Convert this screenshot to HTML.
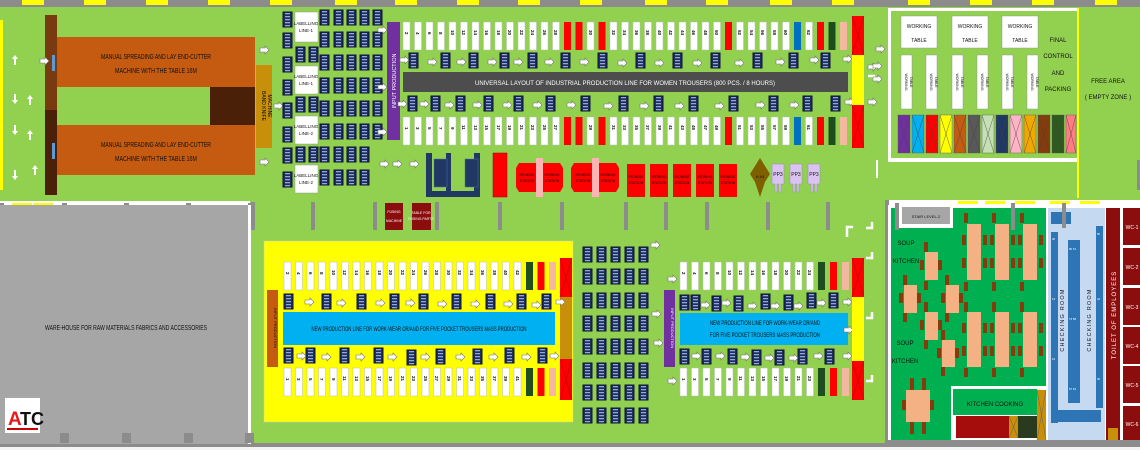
<!DOCTYPE html>
<html><head><meta charset="utf-8"><style>
body{margin:0;background:#fff}
svg{display:block}
text{font-family:"Liberation Sans",sans-serif;fill:#111}
</style></head><body>
<svg width="1140" height="450" viewBox="0 0 1140 450" xmlns="http://www.w3.org/2000/svg">
<defs>
<pattern id="mp" width="9" height="3" patternUnits="userSpaceOnUse"><rect width="9" height="3" fill="#1f2d5a"/><rect x="2" y="1" width="5" height="1.3" fill="#8fa8e0"/></pattern>
<g id="m"><rect width="9" height="15" fill="url(#mp)" stroke="#0d1433" stroke-width="1"/></g>
<g id="ar"><path d="M0 2h5v-2l4 4-4 4v-2h-5z" fill="#fff" stroke="#777" stroke-width=".6"/></g>
<g id="st"><rect width="7" height="28" fill="#fff" stroke="#bbb" stroke-width=".5"/></g>
</defs>
<rect width="1140" height="450" fill="#92d050"/>
<rect x="0" y="0" width="1140" height="7" fill="#8c8c8c"/>
<g fill="#ffff00"><rect x="22" y="0" width="22" height="5"/><rect x="84" y="0" width="22" height="5"/><rect x="146" y="0" width="22" height="5"/><rect x="208" y="0" width="22" height="5"/><rect x="270" y="0" width="22" height="5"/><rect x="335" y="0" width="22" height="5"/><rect x="395" y="0" width="22" height="5"/><rect x="457" y="0" width="22" height="5"/><rect x="518" y="0" width="22" height="5"/><rect x="580" y="0" width="22" height="5"/><rect x="645" y="0" width="22" height="5"/><rect x="706" y="0" width="22" height="5"/><rect x="770" y="0" width="22" height="5"/><rect x="832" y="0" width="22" height="5"/><rect x="908" y="0" width="22" height="5"/><rect x="970" y="0" width="22" height="5"/><rect x="1032" y="0" width="22" height="5"/><rect x="1095" y="0" width="22" height="5"/><rect x="0" y="20" width="3" height="170"/></g>
<rect x="0" y="443" width="1140" height="4" fill="#8c8c8c"/>
<rect x="0" y="447" width="1140" height="3" fill="#f4f4f4"/>

<rect x="45" y="15" width="12" height="180" fill="#7a3a10"/>
<rect x="45" y="110" width="12" height="85" fill="#4a2008"/>
<rect x="57" y="37" width="198" height="50" fill="#c55a11"/>
<rect x="57" y="125" width="198" height="50" fill="#c55a11"/>
<rect x="57" y="87" width="153" height="38" fill="#92d050"/>
<rect x="210" y="87" width="45" height="38" fill="#4a2008"/>
<rect x="52" y="55" width="3" height="16" fill="#5b9bd5"/><rect x="52" y="143" width="3" height="16" fill="#5b9bd5"/>
<text x="156" y="59" font-size="7" text-anchor="middle" textLength="110" lengthAdjust="spacingAndGlyphs">MANUAL SPREADING AND LAY END-CUTTER</text>
<text x="156" y="73" font-size="7" text-anchor="middle" textLength="82" lengthAdjust="spacingAndGlyphs">MACHINE WITH THE TABLE 16M</text>
<text x="156" y="147" font-size="7" text-anchor="middle" textLength="110" lengthAdjust="spacingAndGlyphs">MANUAL SPREADING AND LAY END-CUTTER</text>
<text x="156" y="161" font-size="7" text-anchor="middle" textLength="82" lengthAdjust="spacingAndGlyphs">MACHINE WITH THE TABLE 16M</text>
<rect x="256" y="65" width="16" height="83" fill="#c8900a"/>
<text transform="translate(262,106) rotate(90)" font-size="5" text-anchor="middle">BAND KNIFE</text>
<text transform="translate(268,106) rotate(90)" font-size="5" text-anchor="middle">MACHINE</text>
<g fill="#fff"><path d="M14 65v-6h-2l3-4 3 4h-2v6z"/><path d="M14 94v6h-2l3 4 3-4h-2v-6z"/><path d="M14 125v6h-2l3 4 3-4h-2v-6z"/><path d="M14 170v6h-2l3 4 3-4h-2v-6z"/><path d="M29 105v-6h-2l3-4 3 4h-2v6z"/><path d="M29 140v-6h-2l3-4 3 4h-2v6z"/><path d="M34 175v-6h-2l3-4 3 4h-2v6z"/></g>
<use href="#ar" x="40" y="57"/><use href="#ar" x="260" y="46"/><use href="#ar" x="274" y="102"/><use href="#ar" x="260" y="158"/>

<g>
<use href="#m" x="283" y="12"/><use href="#m" x="283" y="33"/><use href="#m" x="283" y="57"/><use href="#m" x="283" y="80"/><use href="#m" x="283" y="103"/><use href="#m" x="283" y="127"/><use href="#m" x="283" y="148"/><use href="#m" x="283" y="172"/>
<use href="#m" x="296" y="47"/><use href="#m" x="309" y="47"/><use href="#m" x="296" y="97"/><use href="#m" x="309" y="97"/><use href="#m" x="296" y="147"/><use href="#m" x="309" y="147"/>
</g>
<g>
<use href="#m" x="320" y="10"/><use href="#m" x="334" y="10"/><use href="#m" x="347" y="10"/><use href="#m" x="360" y="10"/><use href="#m" x="373" y="10"/>
<use href="#m" x="320" y="32"/><use href="#m" x="334" y="32"/><use href="#m" x="347" y="32"/><use href="#m" x="360" y="32"/><use href="#m" x="373" y="32"/>
<use href="#m" x="320" y="55"/><use href="#m" x="334" y="55"/><use href="#m" x="347" y="55"/><use href="#m" x="360" y="55"/><use href="#m" x="373" y="55"/>
<use href="#m" x="320" y="78"/><use href="#m" x="334" y="78"/><use href="#m" x="347" y="78"/><use href="#m" x="360" y="78"/><use href="#m" x="373" y="78"/>
<use href="#m" x="320" y="101"/><use href="#m" x="334" y="101"/><use href="#m" x="347" y="101"/><use href="#m" x="360" y="101"/><use href="#m" x="373" y="101"/>
<use href="#m" x="320" y="124"/><use href="#m" x="334" y="124"/><use href="#m" x="347" y="124"/><use href="#m" x="360" y="124"/><use href="#m" x="373" y="124"/>
<use href="#m" x="320" y="147"/><use href="#m" x="334" y="147"/><use href="#m" x="347" y="147"/><use href="#m" x="360" y="147"/>
<use href="#m" x="320" y="170"/><use href="#m" x="334" y="170"/><use href="#m" x="347" y="170"/><use href="#m" x="360" y="170"/>
</g>
<g fill="#fff" stroke="#999" stroke-width=".5"><rect x="295" y="12" width="23" height="30"/><rect x="295" y="66" width="23" height="28"/><rect x="295" y="116" width="23" height="28"/><rect x="295" y="165" width="23" height="28"/></g>
<g font-size="4.5" text-anchor="middle"><text x="306" y="25">LABELLING</text><text x="306" y="32">LINE-1</text><text x="306" y="78">LABELLING</text><text x="306" y="85">LINE-1</text><text x="306" y="128">LABELLING</text><text x="306" y="135">LINE-2</text><text x="306" y="177">LABELLING</text><text x="306" y="184">LINE-2</text></g>

<rect x="387" y="22" width="13" height="118" fill="#7030a0"/>
<text transform="translate(396,81) rotate(-90)" font-size="5.5" text-anchor="middle" style="fill:#fff">INPUT PRODUCTION</text>
<use href="#ar" x="378" y="26"/><use href="#ar" x="378" y="83"/><use href="#ar" x="378" y="128"/><use href="#ar" x="380" y="160"/><use href="#ar" x="393" y="160"/><use href="#ar" x="410" y="160"/>
<rect x="403" y="72" width="445" height="20" fill="#4d4d4d"/>
<text x="625" y="85" font-size="6.5" text-anchor="middle" style="fill:#fff" textLength="300" lengthAdjust="spacingAndGlyphs">UNIVERSAL LAYOUT OF INDUSTRIAL PRODUCTION LINE FOR WOMEN TROUSERS (800 PCS. / 8 HOURS)</text>
<g id="toprow">
<use href="#st" x="403" y="22"/><use href="#st" x="414.5" y="22"/><use href="#st" x="426" y="22"/><use href="#st" x="437.5" y="22"/><use href="#st" x="449" y="22"/><use href="#st" x="460.5" y="22"/><use href="#st" x="472" y="22"/><use href="#st" x="483.5" y="22"/><use href="#st" x="495" y="22"/><use href="#st" x="506.5" y="22"/><use href="#st" x="518" y="22"/><use href="#st" x="529.5" y="22"/><use href="#st" x="541" y="22"/><use href="#st" x="552.5" y="22"/>
<use href="#st" x="587" y="22"/><use href="#st" x="610" y="22"/><use href="#st" x="621.5" y="22"/><use href="#st" x="633" y="22"/><use href="#st" x="644.5" y="22"/><use href="#st" x="656" y="22"/><use href="#st" x="667.5" y="22"/><use href="#st" x="679" y="22"/><use href="#st" x="690.5" y="22"/><use href="#st" x="702" y="22"/><use href="#st" x="713.5" y="22"/>
<use href="#st" x="736.5" y="22"/><use href="#st" x="748" y="22"/><use href="#st" x="759.5" y="22"/><use href="#st" x="771" y="22"/><use href="#st" x="782.5" y="22"/><use href="#st" x="805.5" y="22"/>
</g>
<g fill="#ff0000"><rect x="564" y="22" width="7" height="28"/><rect x="575.5" y="22" width="7" height="28"/><rect x="598.5" y="22" width="7" height="28"/><rect x="725" y="22" width="7" height="28"/><rect x="817" y="22" width="7" height="28"/>
<rect x="564" y="117" width="7" height="28"/><rect x="575.5" y="117" width="7" height="28"/><rect x="598.5" y="117" width="7" height="28"/><rect x="725" y="117" width="7" height="28"/><rect x="817" y="117" width="7" height="28"/></g>
<rect x="794" y="22" width="7" height="28" fill="#0070c0"/><rect x="794" y="117" width="7" height="28" fill="#0070c0"/>
<rect x="828.5" y="22" width="7" height="28" fill="#1e4d1e"/><rect x="828.5" y="117" width="7" height="28" fill="#1e4d1e"/>
<rect x="840" y="22" width="7" height="28" fill="#f4b8a0"/><rect x="840" y="117" width="7" height="28" fill="#f4b8a0"/>
<use href="#toprow" y="95"/>
<g font-size="4.5" font-weight="bold">
<g transform="rotate(90)">
<text x="32" y="-405">2</text><text x="32" y="-416">4</text><text x="32" y="-428">6</text><text x="32" y="-439">8</text><text x="30" y="-451">10</text><text x="30" y="-462">12</text><text x="30" y="-474">14</text><text x="30" y="-485">16</text><text x="30" y="-497">18</text><text x="30" y="-508">20</text><text x="30" y="-520">22</text><text x="30" y="-531">24</text><text x="30" y="-543">26</text><text x="30" y="-554">28</text><text x="30" y="-589">30</text><text x="30" y="-612">32</text><text x="30" y="-623">34</text><text x="30" y="-635">36</text><text x="30" y="-646">38</text><text x="30" y="-658">40</text><text x="30" y="-669">42</text><text x="30" y="-681">44</text><text x="30" y="-692">46</text><text x="30" y="-704">48</text><text x="30" y="-715">50</text><text x="30" y="-738">52</text><text x="30" y="-750">54</text><text x="30" y="-761">56</text><text x="30" y="-773">58</text><text x="30" y="-784">60</text><text x="30" y="-807">62</text>
<text x="127" y="-405">1</text><text x="127" y="-416">3</text><text x="127" y="-428">5</text><text x="127" y="-439">7</text><text x="127" y="-451">9</text><text x="125" y="-462">11</text><text x="125" y="-474">13</text><text x="125" y="-485">15</text><text x="125" y="-497">17</text><text x="125" y="-508">19</text><text x="125" y="-520">21</text><text x="125" y="-531">23</text><text x="125" y="-543">25</text><text x="125" y="-554">27</text><text x="125" y="-589">29</text><text x="125" y="-612">31</text><text x="125" y="-623">33</text><text x="125" y="-635">35</text><text x="125" y="-646">37</text><text x="125" y="-658">39</text><text x="125" y="-669">41</text><text x="125" y="-681">43</text><text x="125" y="-692">45</text><text x="125" y="-704">47</text><text x="125" y="-715">49</text><text x="125" y="-738">51</text><text x="125" y="-750">53</text><text x="125" y="-761">55</text><text x="125" y="-773">57</text><text x="125" y="-784">59</text><text x="125" y="-807">61</text>
</g></g>
<g>
<use href="#m" x="409" y="53"/><use href="#m" x="441" y="53"/><use href="#m" x="469" y="53"/><use href="#m" x="500" y="53"/><use href="#m" x="528" y="53"/><use href="#m" x="561" y="53"/><use href="#m" x="598" y="53"/><use href="#m" x="636" y="53"/><use href="#m" x="673" y="53"/><use href="#m" x="711" y="53"/><use href="#m" x="753" y="53"/><use href="#m" x="789" y="53"/><use href="#m" x="821" y="53"/>
<use href="#ar" x="400" y="56"/><use href="#ar" x="428" y="58"/><use href="#ar" x="457" y="58"/><use href="#ar" x="488" y="58"/><use href="#ar" x="514" y="58"/><use href="#ar" x="545" y="58"/><use href="#ar" x="580" y="58"/><use href="#ar" x="618" y="59"/><use href="#ar" x="655" y="59"/><use href="#ar" x="693" y="59"/><use href="#ar" x="735" y="59"/><use href="#ar" x="776" y="58"/><use href="#ar" x="810" y="56"/><use href="#ar" x="843" y="55"/>
<use href="#m" x="408" y="96"/><use href="#m" x="431" y="96"/><use href="#m" x="456" y="96"/><use href="#m" x="484" y="96"/><use href="#m" x="514" y="96"/><use href="#m" x="546" y="96"/><use href="#m" x="581" y="96"/><use href="#m" x="619" y="96"/><use href="#m" x="654" y="96"/><use href="#m" x="689" y="96"/><use href="#m" x="729" y="96"/><use href="#m" x="769" y="96"/><use href="#m" x="803" y="96"/><use href="#m" x="831" y="96"/>
<use href="#ar" x="398" y="100"/><use href="#ar" x="420" y="100"/><use href="#ar" x="445" y="101"/><use href="#ar" x="473" y="101"/><use href="#ar" x="503" y="101"/><use href="#ar" x="533" y="101"/><use href="#ar" x="567" y="101"/><use href="#ar" x="604" y="102"/><use href="#ar" x="640" y="102"/><use href="#ar" x="675" y="102"/><use href="#ar" x="715" y="102"/><use href="#ar" x="756" y="101"/><use href="#ar" x="790" y="101"/><use href="#ar" x="845" y="98"/>
</g>
<rect x="852" y="16" width="12" height="132" fill="#ff0000"/>
<rect x="852" y="55" width="12" height="50" fill="#ffff00"/>
<path d="M852 16L864 55M864 16L852 55M852 105L864 148M864 105L852 148" stroke="#a00" stroke-width=".5"/>
<use href="#ar" x="868" y="63"/><use href="#ar" x="868" y="98"/><use href="#ar" x="876" y="45"/>

<path d="M426 153h6v38h14v-38h5v38h23v-38h6v44h-54z" fill="#1f3864"/>
<rect x="434" y="159" width="13" height="28" fill="#1f3864" stroke="#5570a0" stroke-width=".5"/><rect x="465" y="159" width="13" height="28" fill="#1f3864" stroke="#5570a0" stroke-width=".5"/>
<rect x="493" y="153" width="14" height="44" fill="#ff0000" stroke="#900" stroke-width=".5"/>
<g fill="#ff0000"><path d="M516 168l3-5h17v29h-17l-3-5z"/><path d="M543 163h17l3 5v19l-3 5h-17z"/><path d="M571 168l3-5h18v29h-18l-3-5z"/><path d="M599 163h17l3 5v19l-3 5h-17z"/>
<rect x="627" y="164" width="18" height="33"/><rect x="650" y="164" width="18" height="33"/><rect x="673" y="164" width="18" height="33"/><rect x="696" y="164" width="18" height="33"/><rect x="719" y="164" width="18" height="33"/></g>
<rect x="536" y="158" width="7" height="39" fill="#ffb3b3"/><rect x="592" y="158" width="7" height="39" fill="#ffb3b3"/>
<g font-size="3.5" text-anchor="middle"><text x="527" y="176">IRONING</text><text x="527" y="182">STATION</text><text x="552" y="176">IRONING</text><text x="552" y="182">STATION</text><text x="583" y="176">IRONING</text><text x="583" y="182">STATION</text><text x="608" y="176">IRONING</text><text x="608" y="182">STATION</text><text x="636" y="178">IRONING</text><text x="636" y="184">STATION</text><text x="659" y="178">IRONING</text><text x="659" y="184">STATION</text><text x="682" y="178">IRONING</text><text x="682" y="184">STATION</text><text x="705" y="178">IRONING</text><text x="705" y="184">STATION</text><text x="728" y="178">IRONING</text><text x="728" y="184">STATION</text></g>
<path d="M760 158l5 8 5 8-5 8-5 15-5-15-5-8 5-8z" fill="#7f6000"/>
<text x="760" y="178" font-size="4" text-anchor="middle">H-04</text>
<g fill="#d9c3f0" stroke="#9e86c0" stroke-width=".5"><path d="M772 164h12v20h-3v8h-2v-8h-2v8h-2v-8h-3z"/><path d="M790 164h12v20h-3v8h-2v-8h-2v8h-2v-8h-3z"/><path d="M808 164h12v20h-3v8h-2v-8h-2v8h-2v-8h-3z"/></g>
<g font-size="5" text-anchor="middle"><text x="778" y="176">PP3</text><text x="796" y="176">PP3</text><text x="814" y="176">PP3</text></g>

<rect x="0" y="201" width="250" height="4" fill="#fff"/>
<g fill="#8c8c8c"><rect x="0" y="203" width="4" height="17"/><rect x="62" y="203" width="5" height="17"/><rect x="124" y="203" width="5" height="17"/><rect x="186" y="203" width="5" height="17"/><rect x="248" y="203" width="5" height="17"/>
<rect x="251" y="202" width="4" height="28"/><rect x="311" y="202" width="4" height="28"/><rect x="373" y="202" width="4" height="28"/><rect x="435" y="202" width="4" height="28"/><rect x="498" y="202" width="4" height="28"/><rect x="560" y="202" width="4" height="28"/><rect x="624" y="202" width="4" height="28"/><rect x="664" y="202" width="4" height="28"/><rect x="705" y="202" width="4" height="28"/><rect x="766" y="202" width="4" height="28"/><rect x="826" y="202" width="4" height="28"/></g>
<g fill="#ffff00"><rect x="12" y="203" width="20" height="3"/><rect x="33" y="203" width="20" height="3"/></g>
<rect x="385" y="203" width="18" height="27" fill="#8b0d0d"/><rect x="412" y="203" width="19" height="27" fill="#8b0d0d"/>
<g font-size="3.5" text-anchor="middle"><text x="394" y="213" style="fill:#fff">FUSING</text><text x="394" y="222" style="fill:#fff">MACHINE</text><text x="421" y="214" style="fill:#fff">TABLE FOR</text><text x="421" y="220" style="fill:#fff">FUSING PARTS</text></g>

<rect x="0" y="205" width="250" height="239" fill="#a6a6a6"/>
<rect x="248" y="205" width="3" height="239" fill="#fff"/>
<g fill="#8c8c8c"><rect x="60" y="433" width="9" height="10"/><rect x="122" y="433" width="9" height="10"/><rect x="184" y="433" width="9" height="10"/><rect x="245" y="433" width="9" height="10"/></g>
<text x="126" y="330" font-size="7" text-anchor="middle" textLength="162" lengthAdjust="spacingAndGlyphs">WARE-HOUSE FOR RAW MATERIALS  FABRICS AND ACCESSORIES</text>
<rect x="5" y="398" width="35" height="35" fill="#fff"/>
<text x="8" y="425" font-size="19" font-weight="bold" style="fill:#e31b1b">A</text>
<text x="20" y="425" font-size="18" font-weight="bold" style="fill:#111">TC</text>
<rect x="7" y="428" width="31" height="2" fill="#c00"/>

<rect x="264" y="241" width="309" height="181" fill="#ffff00" stroke="#ccc" stroke-width=".5"/>
<rect x="267" y="290" width="11" height="77" fill="#c55a11"/>
<text transform="translate(274,328) rotate(90)" font-size="4" text-anchor="middle">INPUT PRODUCTION</text>
<rect x="283" y="312" width="272" height="33" fill="#00b0f0"/>
<text x="419" y="331" font-size="6.5" text-anchor="middle" textLength="215" lengthAdjust="spacingAndGlyphs">NEW PRODUCTION LINE FOR WORK-WEAR OR/AND FOR FIVE POCKET TROUSERS MASS PRODUCTION</text>
<g id="yrow">
<use href="#st" x="284" y="262"/><use href="#st" x="295.5" y="262"/><use href="#st" x="307" y="262"/><use href="#st" x="318.5" y="262"/><use href="#st" x="330" y="262"/><use href="#st" x="341.5" y="262"/><use href="#st" x="353" y="262"/><use href="#st" x="364.5" y="262"/><use href="#st" x="376" y="262"/><use href="#st" x="387.5" y="262"/><use href="#st" x="399" y="262"/><use href="#st" x="410.5" y="262"/><use href="#st" x="422" y="262"/><use href="#st" x="433.5" y="262"/><use href="#st" x="445" y="262"/><use href="#st" x="456.5" y="262"/><use href="#st" x="468" y="262"/><use href="#st" x="479.5" y="262"/><use href="#st" x="491" y="262"/><use href="#st" x="502.5" y="262"/><use href="#st" x="514" y="262"/>
<rect x="526" y="262" width="7" height="28" fill="#1e4d1e"/><rect x="537.5" y="262" width="7" height="28" fill="#ff0000"/><rect x="549" y="262" width="7" height="28" fill="#f4b8a0"/>
</g>
<use href="#yrow" y="106"/>
<rect x="560" y="258" width="12" height="142" fill="#ff0000"/><rect x="560" y="297" width="12" height="62" fill="#c8900a"/>
<path d="M560 258L572 297M572 258L560 297M560 359L572 400M572 359L560 400" stroke="#a00" stroke-width=".5"/>
<g font-size="4.5" font-weight="bold"><g transform="rotate(90)">
<text x="272" y="-286">2</text><text x="272" y="-297">4</text><text x="272" y="-309">6</text><text x="272" y="-320">8</text><text x="270" y="-332">10</text><text x="270" y="-343">12</text><text x="270" y="-355">14</text><text x="270" y="-366">16</text><text x="270" y="-378">18</text><text x="270" y="-389">20</text><text x="270" y="-401">22</text><text x="270" y="-412">24</text><text x="270" y="-424">26</text><text x="270" y="-435">28</text><text x="270" y="-447">30</text><text x="270" y="-458">32</text><text x="270" y="-470">34</text><text x="270" y="-481">36</text><text x="270" y="-493">38</text><text x="270" y="-504">40</text><text x="270" y="-516">42</text>
<text x="378" y="-286">1</text><text x="378" y="-297">3</text><text x="378" y="-309">5</text><text x="378" y="-320">7</text><text x="378" y="-332">9</text><text x="376" y="-343">11</text><text x="376" y="-355">13</text><text x="376" y="-366">15</text><text x="376" y="-378">17</text><text x="376" y="-389">19</text><text x="376" y="-401">21</text><text x="376" y="-412">23</text><text x="376" y="-424">25</text><text x="376" y="-435">27</text><text x="376" y="-447">29</text><text x="376" y="-458">31</text><text x="376" y="-470">33</text><text x="376" y="-481">35</text><text x="376" y="-493">37</text><text x="376" y="-504">39</text><text x="376" y="-516">41</text>
</g></g>
<g>
<use href="#m" x="284" y="294"/><use href="#m" x="322" y="294"/><use href="#m" x="357" y="294"/><use href="#m" x="390" y="294"/><use href="#m" x="419" y="294"/><use href="#m" x="452" y="294"/><use href="#m" x="486" y="294"/><use href="#m" x="517" y="294"/><use href="#m" x="542" y="294"/>
<use href="#ar" x="305" y="298"/><use href="#ar" x="337" y="299"/><use href="#ar" x="376" y="299"/><use href="#ar" x="406" y="299"/><use href="#ar" x="438" y="300"/><use href="#ar" x="471" y="300"/><use href="#ar" x="504" y="300"/><use href="#ar" x="532" y="301"/><use href="#ar" x="556" y="298"/>
<use href="#m" x="284" y="348"/><use href="#m" x="306" y="348"/><use href="#m" x="340" y="348"/><use href="#m" x="374" y="348"/><use href="#m" x="407" y="350"/><use href="#m" x="436" y="349"/><use href="#m" x="473" y="349"/><use href="#m" x="505" y="348"/><use href="#m" x="538" y="348"/>
<use href="#ar" x="297" y="352"/><use href="#ar" x="322" y="353"/><use href="#ar" x="356" y="353"/><use href="#ar" x="388" y="353"/><use href="#ar" x="421" y="353"/><use href="#ar" x="456" y="353"/><use href="#ar" x="489" y="353"/><use href="#ar" x="522" y="353"/><use href="#ar" x="550" y="352"/>
</g>

<g id="cg"><use href="#m" x="583" y="247"/><use href="#m" x="597" y="247"/><use href="#m" x="611" y="247"/><use href="#m" x="625" y="247"/><use href="#m" x="639" y="247"/></g>
<use href="#cg" y="22"/><use href="#cg" y="46"/><use href="#cg" y="69"/><use href="#cg" y="92"/><use href="#cg" y="116"/><use href="#cg" y="138"/><use href="#cg" y="161"/>
<use href="#ar" x="652" y="310"/><use href="#ar" x="654" y="339"/>

<rect x="664" y="290" width="11" height="77" fill="#7030a0"/>
<text transform="translate(671,328) rotate(90)" font-size="4" text-anchor="middle" style="fill:#fff">INPUT PRODUCTION</text>
<rect x="680" y="313" width="168" height="32" fill="#00b0f0"/>
<text x="765" y="325" font-size="6" text-anchor="middle" textLength="110" lengthAdjust="spacingAndGlyphs">NEW PRODUCTION LINE FOR WORK-WEAR OR/AND</text>
<text x="765" y="337" font-size="6" text-anchor="middle" textLength="110" lengthAdjust="spacingAndGlyphs">FOR FIVE POCKET TROUSERS MASS PRODUCTION</text>
<g id="srow">
<use href="#st" x="680" y="262"/><use href="#st" x="691.5" y="262"/><use href="#st" x="703" y="262"/><use href="#st" x="714.5" y="262"/><use href="#st" x="726" y="262"/><use href="#st" x="737.5" y="262"/><use href="#st" x="749" y="262"/><use href="#st" x="760.5" y="262"/><use href="#st" x="772" y="262"/><use href="#st" x="783.5" y="262"/><use href="#st" x="795" y="262"/><use href="#st" x="806.5" y="262"/>
<rect x="818" y="262" width="7" height="28" fill="#1e4d1e"/><rect x="830" y="262" width="7" height="28" fill="#ff0000"/><rect x="842" y="262" width="7" height="28" fill="#f4b8a0"/>
</g>
<use href="#srow" y="106"/>
<g font-size="4.5" font-weight="bold"><g transform="rotate(90)">
<text x="272" y="-682">2</text><text x="272" y="-693">4</text><text x="272" y="-705">6</text><text x="272" y="-716">8</text><text x="270" y="-728">10</text><text x="270" y="-739">12</text><text x="270" y="-751">14</text><text x="270" y="-762">16</text><text x="270" y="-774">18</text><text x="270" y="-785">20</text><text x="270" y="-797">22</text><text x="270" y="-808">24</text>
<text x="378" y="-682">1</text><text x="378" y="-693">3</text><text x="378" y="-705">5</text><text x="378" y="-716">7</text><text x="378" y="-728">9</text><text x="376" y="-739">11</text><text x="376" y="-751">13</text><text x="376" y="-762">15</text><text x="376" y="-774">17</text><text x="376" y="-785">19</text><text x="376" y="-797">21</text><text x="376" y="-808">23</text>
</g></g>
<g>
<use href="#m" x="680" y="295"/><use href="#m" x="691" y="295"/><use href="#m" x="712" y="296"/><use href="#m" x="734" y="296"/><use href="#m" x="761" y="294"/><use href="#m" x="784" y="295"/><use href="#m" x="807" y="293"/><use href="#m" x="829" y="293"/>
<use href="#ar" x="701" y="301"/><use href="#ar" x="722" y="299"/><use href="#ar" x="748" y="302"/><use href="#ar" x="771" y="302"/><use href="#ar" x="794" y="302"/><use href="#ar" x="817" y="299"/><use href="#ar" x="843" y="298"/><use href="#ar" x="844" y="326"/><use href="#ar" x="668" y="275"/><use href="#ar" x="668" y="377"/><use href="#ar" x="651" y="241"/>
<use href="#m" x="680" y="349"/><use href="#m" x="702" y="349"/><use href="#m" x="728" y="349"/><use href="#m" x="752" y="350"/><use href="#m" x="775" y="350"/><use href="#m" x="798" y="349"/><use href="#m" x="825" y="349"/>
<use href="#ar" x="692" y="352"/><use href="#ar" x="716" y="352"/><use href="#ar" x="741" y="353"/><use href="#ar" x="765" y="354"/><use href="#ar" x="789" y="354"/><use href="#ar" x="814" y="352"/><use href="#ar" x="843" y="352"/>
</g>
<rect x="852" y="258" width="12" height="142" fill="#ff0000"/><rect x="852" y="297" width="12" height="64" fill="#ffff00"/>
<path d="M852 258L864 297M864 258L852 297M852 361L864 400M864 361L852 400" stroke="#a00" stroke-width=".5"/>
<g fill="none" stroke="#fff" stroke-width="2.5"><path d="M847 237v-10h6"/><path d="M872 222v6h-6"/><path d="M872 252v6h-6"/><path d="M872 312v6h-6"/><path d="M872 375v6h-6"/><path d="M874 80v-4h-6"/></g>

<rect x="888" y="8" width="190" height="154" fill="#fff"/>
<rect x="891" y="11" width="186" height="147" fill="#92d050"/>
<rect x="1077" y="8" width="2" height="190" fill="#ffff00"/>
<g fill="#fff" stroke="#999" stroke-width=".5"><rect x="901" y="16" width="36" height="32"/><rect x="952" y="16" width="36" height="32"/><rect x="1002" y="16" width="36" height="32"/>
<rect x="901" y="55" width="11" height="54"/><rect x="926" y="55" width="11" height="54"/><rect x="952" y="55" width="11" height="54"/><rect x="977" y="55" width="11" height="54"/><rect x="1002" y="55" width="11" height="54"/><rect x="1027" y="55" width="11" height="54"/></g>
<g font-size="5" text-anchor="middle"><text x="919" y="28">WORKING</text><text x="919" y="42">TABLE</text><text x="970" y="28">WORKING</text><text x="970" y="42">TABLE</text><text x="1020" y="28">WORKING</text><text x="1020" y="42">TABLE</text></g>
<g font-size="3.5" text-anchor="middle"><text transform="translate(905,82) rotate(90)">WORKING</text><text transform="translate(910,82) rotate(90)">TABLE</text><text transform="translate(930,82) rotate(90)">WORKING</text><text transform="translate(935,82) rotate(90)">TABLE</text><text transform="translate(956,82) rotate(90)">WORKING</text><text transform="translate(961,82) rotate(90)">TABLE</text><text transform="translate(981,82) rotate(90)">WORKING</text><text transform="translate(986,82) rotate(90)">TABLE</text><text transform="translate(1006,82) rotate(90)">WORKING</text><text transform="translate(1011,82) rotate(90)">TABLE</text><text transform="translate(1031,82) rotate(90)">WORKING</text><text transform="translate(1036,82) rotate(90)">TABLE</text></g>
<g font-size="6" text-anchor="middle"><text x="1058" y="42">FINAL</text><text x="1058" y="58">CONTROL</text><text x="1058" y="75">AND</text><text x="1058" y="91">PACKING</text>
<text x="1108" y="83">FREE AREA</text><text x="1108" y="99">( EMPTY ZONE )</text></g>
<g stroke="#555" stroke-width=".4">
<rect x="898" y="115" width="12" height="38" fill="#7030a0"/><rect x="912" y="115" width="12" height="38" fill="#00b0f0"/><rect x="926" y="115" width="12" height="38" fill="#ff0000"/><rect x="940" y="115" width="12" height="38" fill="#ffff00"/><rect x="954" y="115" width="12" height="38" fill="#c55a11"/><rect x="968" y="115" width="12" height="38" fill="#595959"/><rect x="982" y="115" width="12" height="38" fill="#c5e0b4"/><rect x="996" y="115" width="12" height="38" fill="#1f3864"/><rect x="1010" y="115" width="12" height="38" fill="#ffb3c6"/><rect x="1024" y="115" width="12" height="38" fill="#f0a800"/><rect x="1038" y="115" width="12" height="38" fill="#843c0c"/><rect x="1052" y="115" width="12" height="38" fill="#2e5a1e"/><rect x="1066" y="115" width="10" height="38" fill="#ff7c80"/>
</g>
<path d="M898 115l12 38M910 115l-12 38M912 115l12 38M924 115l-12 38M926 115l12 38M938 115l-12 38M940 115l12 38M952 115l-12 38M954 115l12 38M966 115l-12 38M968 115l12 38M980 115l-12 38M982 115l12 38M994 115l-12 38M996 115l12 38M1008 115l-12 38M1010 115l12 38M1022 115l-12 38M1024 115l12 38M1036 115l-12 38M1038 115l12 38M1050 115l-12 38M1052 115l12 38M1064 115l-12 38M1066 115l10 38M1076 115l-10 38" stroke="#444" stroke-width=".4"/>
<g fill="#fff"><use href="#ar" x="873" y="62"/><use href="#ar" x="873" y="75"/><path d="M876 160h2v18h-2z"/></g>
<rect x="1137" y="160" width="3" height="30" fill="#8c8c8c"/>

<rect x="885" y="200" width="255" height="5" fill="#fff"/>
<rect x="885" y="200" width="4" height="243" fill="#8c8c8c"/>
<rect x="888" y="205" width="252" height="238" fill="#fff"/>
<rect x="891" y="208" width="155" height="233" fill="#00b050"/>
<rect x="899" y="204" width="54" height="24" fill="#fff"/>
<rect x="902" y="207" width="48" height="17" fill="#a6a6a6"/>
<text x="926" y="218" font-size="4" text-anchor="middle">STAIR LEVEL-2</text>
<rect x="895" y="203" width="4" height="27" fill="#8c8c8c"/>
<rect x="1011" y="203" width="4" height="27" fill="#8c8c8c"/>
<g fill="#ffff00"><rect x="958" y="201" width="20" height="3"/><rect x="985" y="201" width="20" height="3"/><rect x="1015" y="201" width="20" height="3"/><rect x="1050" y="201" width="20" height="3"/><rect x="1080" y="201" width="20" height="3"/></g>
<g font-size="6" text-anchor="middle"><text x="906" y="245">SOUP</text><text x="906" y="263">KITCHEN</text><text x="905" y="345">SOUP</text><text x="905" y="363">KITCHEN</text></g>
<g fill="#843c0c">
<rect x="964" y="213" width="4" height="10"/><rect x="992" y="213" width="4" height="10"/><rect x="1020" y="213" width="4" height="10"/>
<rect x="964" y="282" width="4" height="9"/><rect x="992" y="282" width="4" height="9"/><rect x="1020" y="282" width="4" height="9"/>
<rect x="964" y="302" width="4" height="10"/><rect x="992" y="302" width="4" height="10"/><rect x="1020" y="302" width="4" height="10"/>
<rect x="964" y="368" width="4" height="9"/><rect x="992" y="368" width="4" height="9"/><rect x="1020" y="368" width="4" height="9"/>
<rect x="962" y="235" width="4" height="10"/><rect x="962" y="258" width="4" height="10"/><rect x="983" y="235" width="4" height="10"/><rect x="983" y="258" width="4" height="10"/><rect x="990" y="235" width="4" height="10"/><rect x="990" y="258" width="4" height="10"/><rect x="1011" y="235" width="4" height="10"/><rect x="1011" y="258" width="4" height="10"/><rect x="1018" y="235" width="4" height="10"/><rect x="1018" y="258" width="4" height="10"/><rect x="1039" y="235" width="4" height="10"/><rect x="1039" y="258" width="4" height="10"/>
<rect x="962" y="323" width="4" height="10"/><rect x="962" y="346" width="4" height="10"/><rect x="983" y="323" width="4" height="10"/><rect x="983" y="346" width="4" height="10"/><rect x="990" y="323" width="4" height="10"/><rect x="990" y="346" width="4" height="10"/><rect x="1011" y="323" width="4" height="10"/><rect x="1011" y="346" width="4" height="10"/><rect x="1018" y="323" width="4" height="10"/><rect x="1018" y="346" width="4" height="10"/><rect x="1039" y="323" width="4" height="10"/><rect x="1039" y="346" width="4" height="10"/>
<rect x="924" y="242" width="4" height="10"/><rect x="924" y="281" width="4" height="9"/><rect x="920" y="260" width="4" height="10"/><rect x="938" y="260" width="4" height="10"/>
<rect x="903" y="275" width="4" height="10"/><rect x="903" y="313" width="4" height="9"/><rect x="899" y="293" width="4" height="10"/><rect x="917" y="293" width="4" height="10"/>
<rect x="945" y="275" width="4" height="10"/><rect x="945" y="313" width="4" height="9"/><rect x="941" y="293" width="4" height="10"/><rect x="959" y="293" width="4" height="10"/>
<rect x="924" y="302" width="4" height="10"/><rect x="924" y="340" width="4" height="9"/><rect x="920" y="320" width="4" height="10"/><rect x="938" y="320" width="4" height="10"/>
<rect x="941" y="330" width="4" height="10"/><rect x="941" y="367" width="4" height="9"/><rect x="937" y="348" width="4" height="10"/><rect x="955" y="348" width="4" height="10"/>
<rect x="910" y="378" width="4" height="12"/><rect x="922" y="378" width="4" height="12"/><rect x="910" y="422" width="4" height="12"/><rect x="922" y="422" width="4" height="12"/><rect x="902" y="400" width="4" height="10"/><rect x="930" y="400" width="4" height="10"/>
</g>
<g fill="#f4b183">
<rect x="967" y="224" width="14" height="56"/><rect x="995" y="224" width="14" height="56"/><rect x="1023" y="224" width="14" height="56"/>
<rect x="967" y="312" width="14" height="55"/><rect x="995" y="312" width="14" height="55"/><rect x="1023" y="312" width="14" height="55"/>
<rect x="925" y="252" width="13" height="28"/><rect x="904" y="285" width="13" height="28"/><rect x="946" y="285" width="13" height="28"/><rect x="925" y="312" width="13" height="28"/><rect x="942" y="340" width="13" height="27"/><rect x="906" y="390" width="24" height="32"/>
</g>
<path d="M951 386h95v57h-95z" fill="#fff"/>
<rect x="953" y="389" width="84" height="26" fill="#00b050"/>
<text x="995" y="406" font-size="6" text-anchor="middle">KITCHEN COOKING</text>
<rect x="956" y="416" width="53" height="22" fill="#a50d0d"/>
<rect x="1009" y="416" width="9" height="22" fill="#c8900a"/>
<rect x="1018" y="416" width="20" height="22" fill="#2a3a1e"/>
<rect x="1037" y="390" width="9" height="50" fill="#c8900a"/>
<path d="M1009 416l9 22M1018 416l-9 22M1037 390l9 50M1046 390l-9 50" stroke="#555" stroke-width=".4"/>
<rect x="1048" y="208" width="57" height="232" fill="#c5d9f1"/>
<g fill="#2e75b6"><rect x="1051" y="212" width="20" height="12"/><rect x="1051" y="232" width="7" height="191"/><rect x="1068" y="240" width="12" height="163"/><rect x="1096" y="226" width="7" height="182"/><rect x="1057" y="410" width="44" height="12"/></g>
<g font-size="2.8"><text x="1052" y="240" style="fill:#fff">06</text><text x="1052" y="300" style="fill:#fff">13</text><text x="1052" y="360" style="fill:#fff">19</text><text x="1069" y="250" style="fill:#fff">80 51</text><text x="1069" y="320" style="fill:#fff">73 58</text><text x="1069" y="390" style="fill:#fff">67 64</text><text x="1097" y="235" style="fill:#fff">50</text><text x="1097" y="300" style="fill:#fff">44</text><text x="1097" y="380" style="fill:#fff">36</text></g>
<g font-size="5.5" letter-spacing="1.2" text-anchor="middle"><text transform="translate(1064,320) rotate(-90)">CHECKING ROOM</text><text transform="translate(1091,320) rotate(-90)">CHECKING ROOM</text></g>
<rect x="1062" y="203" width="4" height="25" fill="#8c8c8c"/>
<rect x="1106" y="208" width="14" height="232" fill="#8b0d0d"/>
<text transform="translate(1116,315) rotate(-90)" font-size="6" letter-spacing="1" text-anchor="middle" style="fill:#fff">TOILET OF EMPLOYEES</text>
<rect x="1108" y="428" width="10" height="13" fill="#c8900a"/>
<g fill="#8b0d0d"><rect x="1123" y="208" width="17" height="37"/><rect x="1123" y="248" width="17" height="37"/><rect x="1123" y="288" width="17" height="37"/><rect x="1123" y="327" width="17" height="37"/><rect x="1123" y="366" width="17" height="37"/><rect x="1123" y="406" width="17" height="35"/></g>
<g font-size="5" text-anchor="middle"><text x="1132" y="229" style="fill:#fff">WC-1</text><text x="1132" y="269" style="fill:#fff">WC-2</text><text x="1132" y="309" style="fill:#fff">WC-3</text><text x="1132" y="348" style="fill:#fff">WC-4</text><text x="1132" y="387" style="fill:#fff">WC-5</text><text x="1132" y="426" style="fill:#fff">WC-6</text></g>
<rect x="888" y="440" width="252" height="3" fill="#8c8c8c"/>
</svg>
</body></html>
